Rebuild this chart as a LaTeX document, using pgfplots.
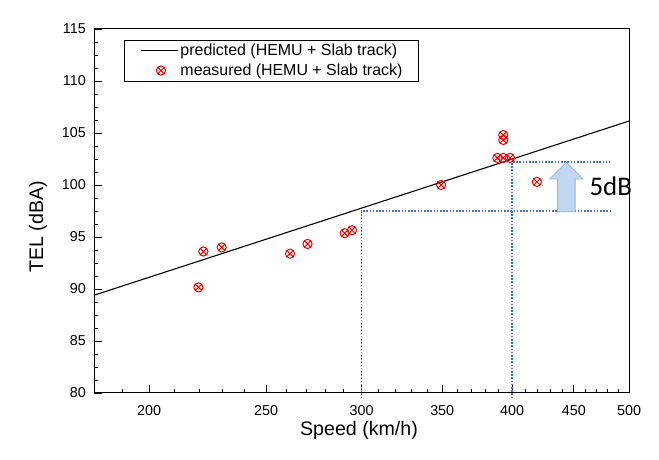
\documentclass[border=0pt]{standalone}
\usepackage{fontspec}
\setmainfont{Liberation Sans}
\newfontfamily\carlito{Carlito}
\usepackage{pgfplots}
\pgfplotsset{compat=1.18}
\definecolor{dotblue}{RGB}{68,114,196}
\definecolor{arrowfill}{RGB}{194,214,240}
\definecolor{arrowdraw}{RGB}{150,180,222}
\pgfplotsset{
  lineleg/.style={legend image code/.code={\draw[##1] (0bp,0bp) -- (37bp,0bp);}},
  markleg/.style={legend image code/.code={\draw[##1] plot coordinates {(20bp,0bp)};}},
}
\begin{document}
\begin{tikzpicture}
\useasboundingbox (0,0) rectangle (659bp,460bp);
\begin{axis}[
  at={(94bp,67bp)}, anchor=south west,
  scale only axis, width=535bp, height=364bp,
  xmode=log, xmin=180, xmax=500, ymin=80, ymax=115,
  clip=false,
  xtick={200,250,300,350,400,450,500},
  xticklabels={200,250,300,350,400,450,500},
  minor xtick={190,210,220,230,240,260,270,280,290,310,320,330,340,360,370,380,390,410,420,430,440,460,470,480,490},
  ytick={80,85,...,115},
  minor y tick num=3,
  tick pos=left, tick align=inside,
  major tick length=8bp, minor tick length=4bp,
  axis line style={line width=1bp},
  every tick/.style={black, line width=0.9bp},
  /pgf/number format/assume math mode=true,
  tick label style={font=\fontsize{14.4}{16}\selectfont},
  xticklabel style={anchor=base, yshift=-22bp, inner sep=0pt},
  yticklabel style={anchor=east, xshift=-8bp, inner sep=0pt},
  xlabel={Speed (km/h)},
  xlabel style={at={(axis description cs:0.4953,-0.118)}, anchor=base, inner sep=0pt, font=\fontsize{19.7}{22}\selectfont},
  ylabel={TEL (dBA)},
  ylabel style={at={(axis description cs:-0.095,0.456)}, anchor=base, inner sep=0pt, font=\fontsize{19.7}{22}\selectfont},
  legend style={at={(axis description cs:0.056,0.9698)}, anchor=north west, draw=black, line width=0.8bp,
    inner xsep=16bp, inner ysep=4bp, row sep=6.6bp, column sep=2bp,
    font=\fontsize{16}{18}\selectfont, nodes={inner sep=0pt}},
  legend cell align=left,
]
% dotted guide lines
\addplot[dotblue, line width=1.8bp, dash pattern=on 1.6bp off 1.6bp, forget plot]
  coordinates {(300,79.5) (300,97.5) (482,97.5)};
\addplot[dotblue, line width=1.8bp, dash pattern=on 1.6bp off 1.6bp, forget plot]
  coordinates {(400,79.5) (400,102.2) (482,102.2)};
% block arrow
\addplot[fill=arrowfill, draw=arrowdraw, line width=0.8bp, forget plot]
  coordinates {(436.2,97.43) (436.2,100.58) (429.7,100.58) (443.6,102.18) (458.0,100.58) (451.1,100.58) (451.1,97.43)} -- cycle;
\node[anchor=base west, inner sep=0pt, font=\carlito\fontsize{27}{30}\selectfont] at (axis cs:463.5,98.97) {5dB};
% predicted
\addplot[black, line width=1.1bp, lineleg]
  coordinates {(180,89.4) (500,106.15)};
\addlegendentry{predicted (HEMU + Slab track)\hspace{10bp}}
% measured
\addplot[only marks, mark=otimes, mark size=4.6bp, mark options={red, line width=1bp}, markleg]
  coordinates {
  (219.7,90.16) (221.8,93.6) (229.7,94.0) (261.7,93.4) (270.6,94.33)
  (290.5,95.36) (294.6,95.65) (349.2,100.0) (388.9,102.6) (393.3,102.6)
  (398.4,102.6) (393.3,104.33) (393.3,104.8) (419.3,100.3)};
\addlegendentry{measured (HEMU + Slab track)}
\end{axis}
\end{tikzpicture}
\end{document}
